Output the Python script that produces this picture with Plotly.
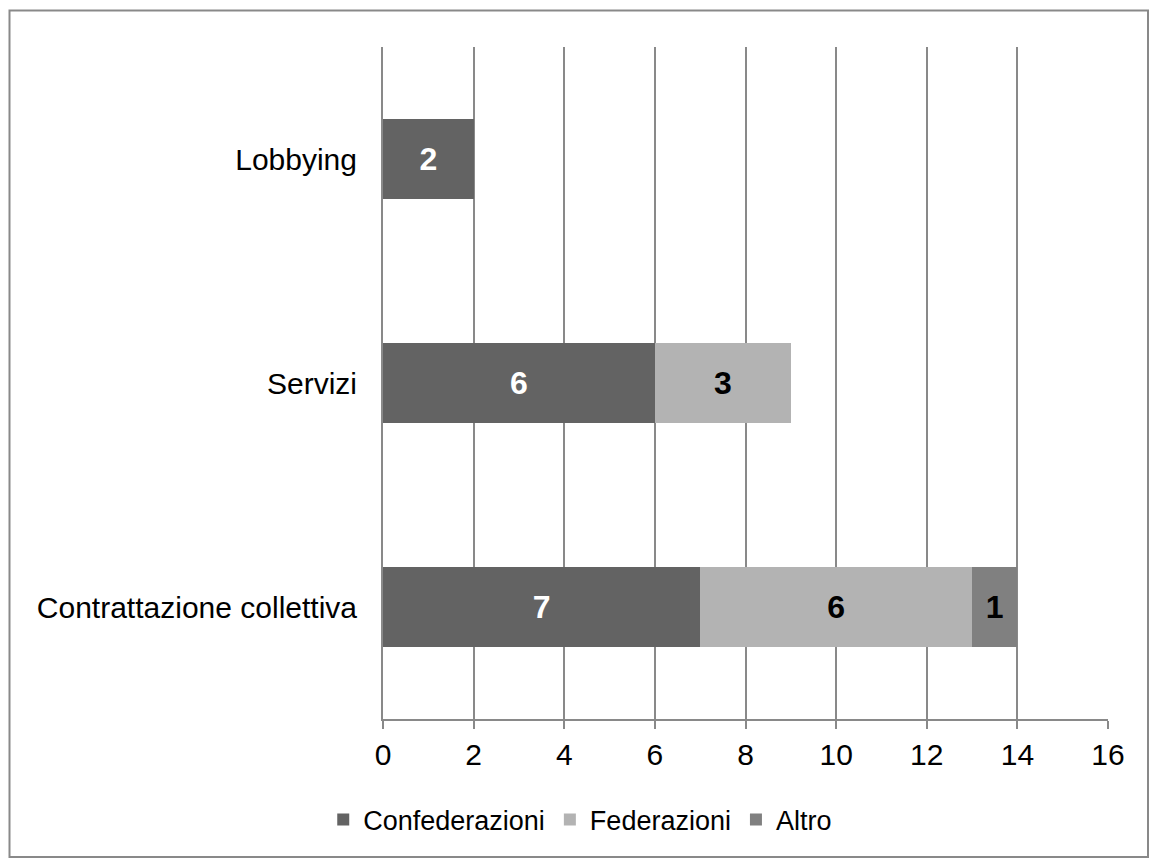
import plotly.graph_objects as go

categories = ["Contrattazione collettiva", "Servizi", "Lobbying"]
confederazioni = [7, 6, 2]
federazioni = [6, 3, None]
altro = [1, None, None]
x_ticks = [0, 2, 4, 6, 8, 10, 12, 14, 16]

W, H = 1149, 858
L, R, T, B = 383, 41, 47, 139
GRID = "#898989"
FONT = "Liberation Sans, Arial, sans-serif"

def lbl(vals):
    return [str(v) if v is not None else "" for v in vals]

fig = go.Figure()
series = [
    ("Confederazioni", confederazioni, "#636363", "white"),
    ("Federazioni", federazioni, "#b3b3b3", "black"),
    ("Altro", altro, "#808080", "black"),
]
for name, vals, col, tcol in series:
    fig.add_trace(go.Bar(
        name=name, y=categories, x=vals, orientation="h",
        marker=dict(color=col, line=dict(width=0)),
        text=lbl(vals), textposition="inside", insidetextanchor="middle",
        textangle=0,
        textfont=dict(family=FONT, size=32, color=tcol, weight="bold"),
        hoverinfo="skip",
    ))

pw = W - L - R
ph = H - T - B
def px2x(p):
    return (p - L) / pw
def py2y(p):
    return 1 - (p - T) / ph

fig.update_layout(
    width=W, height=H,
    margin=dict(l=L, r=R, t=T, b=B, autoexpand=False),
    barmode="stack", bargap=0.647,
    plot_bgcolor="white", paper_bgcolor="white",
    font=dict(family=FONT, color="black"),
    xaxis=dict(
        range=[0, 16], tickvals=x_ticks, ticktext=[str(v) for v in x_ticks],
        showgrid=True, gridcolor=GRID, gridwidth=2,
        showline=True, linecolor=GRID, linewidth=2,
        ticks="outside", ticklen=8, tickwidth=2, tickcolor=GRID,
        tickfont=dict(size=30, family=FONT, color="black"),
        zeroline=False, fixedrange=True,
    ),
    yaxis=dict(
        categoryorder="array", categoryarray=categories,
        range=[-0.5, 2.5],
        showline=True, linecolor=GRID, linewidth=2,
        showgrid=False, ticks="",
        ticklabelstandoff=18,
        tickfont=dict(size=30, family=FONT, color="black"),
    ),
    showlegend=True,
    legend=dict(
        orientation="h", xref="container", yref="container",
        x=0.505, xanchor="center", y=1 - 820 / H, yanchor="middle",
        font=dict(size=27, family=FONT, color="black"),
        traceorder="normal",
    ),
    shapes=[dict(
        type="rect", xref="paper", yref="paper",
        x0=px2x(9.5), x1=px2x(1148), y0=py2y(857), y1=py2y(10.5),
        line=dict(color=GRID, width=2), fillcolor="rgba(0,0,0,0)", layer="below",
    )],
)

fig.write_html("out.html")
